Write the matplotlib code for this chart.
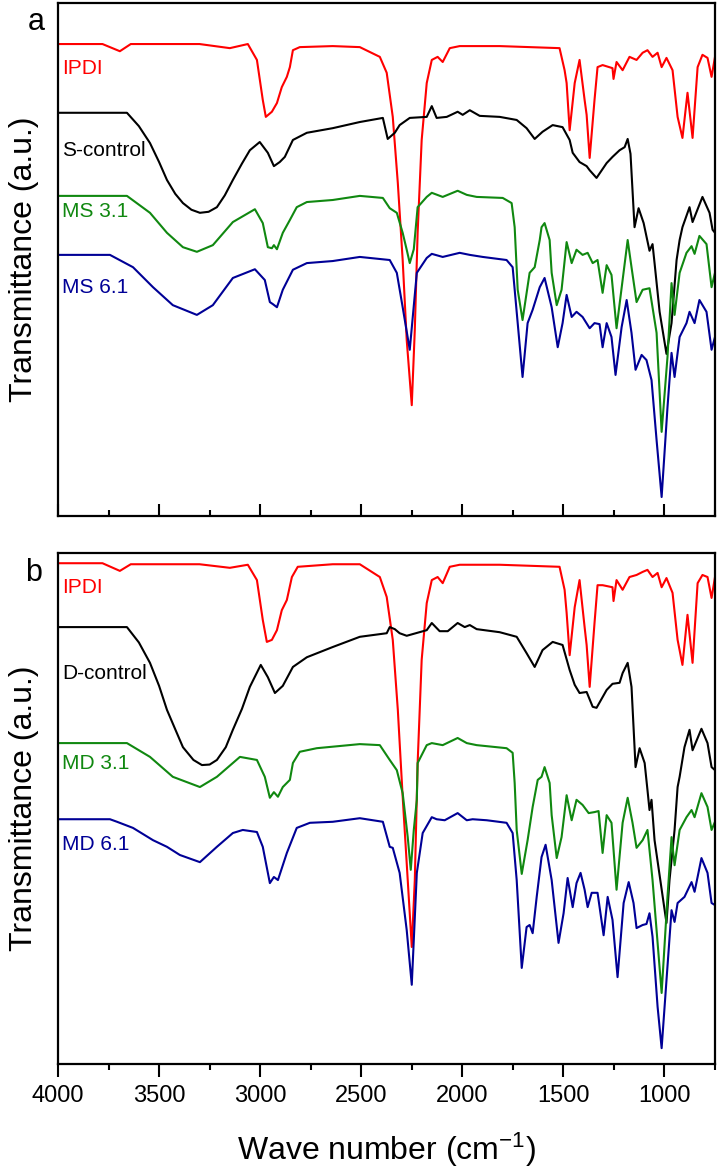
import numpy as np
import matplotlib
matplotlib.use("Agg")
import matplotlib.pyplot as plt
from matplotlib.ticker import MultipleLocator

plt.rcParams['font.family'] = ['Liberation Sans', 'DejaVu Sans']
plt.rcParams['mathtext.default'] = 'regular'

# ----------------------------------
# Spectra: (wave number, transmittance a.u., offset included)
# ----------------------------------
# panel a
ipdi_a = [(4000, 92.0), (3780, 92.0), (3694, 90.6), (3640, 92.0), (3300, 92.0), (3150, 91.2), (3061, 92.0),
          (3016, 88.9), (2987, 81.1), (2972, 77.8), (2942, 78.8), (2917, 80.5), (2893, 83.6), (2868, 85.6),
          (2853, 87.5), (2838, 90.8), (2804, 91.4), (2641, 91.6), (2507, 91.4), (2408, 89.5), (2374, 86.4),
          (2344, 77.8), (2319, 64.9), (2295, 49.9), (2275, 34.3), (2250, 21.6), (2235, 36.3), (2221, 55.2),
          (2201, 73.3), (2176, 84.4), (2151, 88.9), (2122, 89.5), (2097, 88.5), (2062, 91.2), (2013, 91.6),
          (1815, 91.6), (1519, 91.2), (1494, 86.9), (1484, 84.4), (1469, 75.2), (1444, 84.4), (1420, 88.9),
          (1395, 81.1), (1385, 78.2), (1370, 69.8), (1346, 81.1), (1331, 87.5), (1306, 87.9), (1257, 87.3),
          (1252, 85.2), (1237, 88.5), (1207, 86.9), (1173, 89.5), (1138, 88.9), (1108, 90.3), (1084, 90.8),
          (1059, 89.5), (1034, 90.3), (1014, 87.5), (990, 89.3), (960, 86.9), (935, 77.8), (911, 73.7),
          (886, 82.5), (861, 73.7), (836, 87.5), (812, 89.9), (787, 89.3), (767, 85.6), (750, 89.5)]
s_control = [(4000, 78.6), (3659, 78.6), (3600, 76.0), (3545, 72.7), (3500, 69.0), (3461, 65.5), (3420, 62.8),
             (3382, 61.0), (3340, 59.7), (3298, 59.1), (3255, 59.3), (3214, 60.2), (3175, 62.5), (3135, 65.5),
             (3090, 68.7), (3051, 71.3), (3002, 72.9), (2962, 70.8), (2932, 68.2), (2903, 69.0), (2878, 70.0),
             (2838, 73.3), (2769, 74.7), (2641, 75.6), (2507, 76.8), (2393, 77.6), (2369, 73.5), (2334, 74.7),
             (2310, 76.2), (2260, 77.6), (2176, 77.8), (2151, 79.9), (2127, 77.6), (2077, 77.8), (2023, 78.8),
             (1998, 78.2), (1963, 79.1), (1914, 78.0), (1815, 77.8), (1731, 77.2), (1682, 75.6), (1642, 73.5),
             (1603, 74.9), (1553, 76.2), (1504, 75.8), (1469, 73.3), (1454, 70.8), (1420, 69.0), (1385, 68.2),
             (1370, 67.4), (1336, 65.9), (1286, 68.8), (1257, 70.0), (1222, 71.3), (1197, 71.9), (1182, 73.5),
             (1168, 70.6), (1148, 56.3), (1128, 60.0), (1103, 57.1), (1074, 51.7), (1059, 53.0), (1049, 49.3),
             (1024, 39.8), (990, 31.6), (965, 37.6), (940, 49.9), (925, 53.8), (911, 56.3), (876, 60.2),
             (861, 57.3), (812, 62.2), (777, 59.1), (762, 55.8), (750, 55.2)]
ms31 = [(4000, 62.4), (3659, 62.4), (3545, 59.1), (3461, 55.2), (3382, 52.4), (3313, 51.5), (3234, 52.8),
        (3135, 57.3), (3026, 59.8), (2987, 57.1), (2962, 52.4), (2942, 52.2), (2932, 52.8), (2917, 52.0),
        (2888, 55.2), (2853, 57.7), (2819, 60.2), (2769, 61.2), (2641, 61.6), (2507, 62.4), (2393, 62.0),
        (2359, 60.0), (2324, 59.1), (2295, 55.2), (2275, 51.9), (2260, 49.3), (2240, 52.0), (2221, 60.2),
        (2176, 62.2), (2151, 63.0), (2097, 62.2), (2023, 63.4), (1978, 62.6), (1929, 62.2), (1800, 62.0),
        (1756, 61.0), (1741, 56.3), (1726, 44.1), (1702, 38.2), (1667, 47.4), (1642, 48.5), (1617, 53.8),
        (1608, 56.3), (1593, 57.1), (1568, 53.8), (1558, 47.4), (1533, 41.1), (1509, 44.1), (1484, 53.4),
        (1459, 49.3), (1435, 51.9), (1405, 50.9), (1380, 51.3), (1355, 49.3), (1331, 49.9), (1306, 43.5),
        (1286, 48.9), (1262, 47.0), (1237, 36.6), (1207, 46.0), (1182, 53.8), (1163, 48.5), (1138, 41.7),
        (1108, 44.1), (1074, 44.4), (1039, 35.7), (1014, 16.4), (985, 31.0), (965, 45.4), (950, 39.2),
        (925, 47.4), (891, 51.3), (866, 52.6), (851, 51.1), (827, 54.6), (792, 53.0), (767, 44.6), (750, 47.4)]
ms61 = [(4000, 50.9), (3743, 50.9), (3629, 48.5), (3530, 44.6), (3432, 41.1), (3313, 39.2), (3234, 41.1),
        (3135, 46.4), (3026, 48.1), (2977, 46.0), (2952, 41.7), (2937, 41.3), (2917, 40.7), (2888, 44.1),
        (2838, 48.0), (2769, 49.3), (2641, 49.7), (2507, 50.5), (2359, 49.9), (2324, 47.4), (2295, 40.7),
        (2260, 32.4), (2225, 47.4), (2176, 50.3), (2151, 51.1), (2097, 50.5), (2013, 51.3), (1963, 50.9),
        (1899, 50.5), (1781, 49.9), (1751, 48.5), (1726, 37.6), (1702, 27.1), (1677, 37.6), (1652, 40.2),
        (1617, 44.6), (1593, 46.4), (1558, 40.7), (1528, 32.9), (1504, 37.6), (1484, 43.1), (1459, 38.8),
        (1435, 39.8), (1405, 38.8), (1370, 36.6), (1346, 37.6), (1321, 37.4), (1306, 32.9), (1286, 37.6),
        (1262, 34.9), (1242, 27.5), (1212, 36.8), (1187, 42.1), (1163, 35.7), (1143, 28.5), (1113, 31.4),
        (1089, 30.4), (1064, 26.5), (1039, 14.8), (1014, 3.7), (985, 21.2), (965, 31.8), (950, 27.1),
        (925, 34.9), (891, 37.6), (876, 39.8), (851, 37.6), (827, 42.1), (792, 39.8), (767, 32.4), (750, 34.9)]

# panel b
ipdi_b = [(4000, 98.0), (3780, 98.0), (3694, 96.5), (3640, 97.8), (3300, 97.8), (3150, 97.1), (3061, 97.7),
          (3016, 94.7), (2987, 86.9), (2967, 82.6), (2942, 83.0), (2917, 84.9), (2893, 88.8), (2868, 90.8),
          (2843, 95.3), (2814, 97.3), (2641, 97.8), (2507, 97.8), (2408, 95.3), (2374, 91.4), (2344, 83.0),
          (2319, 69.3), (2295, 52.3), (2270, 36.0), (2250, 22.9), (2235, 36.0), (2221, 58.9), (2201, 79.1),
          (2176, 90.2), (2151, 94.7), (2122, 95.3), (2097, 94.1), (2062, 97.3), (2013, 97.7), (1815, 97.7),
          (1519, 97.3), (1494, 92.8), (1484, 88.3), (1469, 80.0), (1444, 89.4), (1420, 94.7), (1395, 85.5),
          (1385, 82.0), (1370, 73.8), (1346, 86.3), (1331, 93.7), (1306, 93.7), (1257, 93.3), (1252, 90.6),
          (1237, 94.7), (1207, 92.8), (1173, 95.3), (1138, 95.7), (1108, 96.3), (1084, 96.7), (1059, 95.3),
          (1034, 96.1), (1014, 93.3), (990, 95.1), (960, 92.2), (935, 83.0), (911, 78.1), (886, 87.9),
          (861, 78.5), (836, 94.1), (812, 95.7), (787, 95.3), (767, 91.2), (750, 95.3)]
d_control = [(4000, 85.5), (3659, 85.5), (3600, 82.5), (3545, 78.5), (3500, 74.0), (3461, 69.3), (3420, 65.5),
             (3382, 62.0), (3330, 59.5), (3288, 58.5), (3250, 58.6), (3214, 59.5), (3170, 62.0), (3135, 65.4),
             (3090, 69.5), (3051, 73.8), (2997, 78.1), (2962, 75.7), (2927, 72.6), (2888, 74.0), (2838, 77.7),
             (2769, 79.6), (2641, 81.6), (2507, 83.6), (2374, 84.3), (2359, 85.5), (2334, 85.1), (2310, 84.3),
             (2275, 83.8), (2176, 84.9), (2151, 86.3), (2112, 84.7), (2072, 84.7), (2023, 86.3), (1988, 85.5),
             (1963, 85.9), (1929, 85.1), (1815, 84.5), (1731, 83.6), (1682, 80.4), (1642, 77.7), (1603, 81.0),
             (1553, 82.6), (1504, 82.0), (1469, 77.1), (1444, 74.2), (1420, 72.6), (1385, 72.8), (1355, 69.9),
             (1336, 69.7), (1286, 73.2), (1257, 74.4), (1222, 74.6), (1207, 76.5), (1182, 78.5), (1163, 73.8),
             (1143, 58.1), (1123, 61.8), (1098, 58.9), (1084, 53.6), (1074, 49.7), (1064, 51.7), (1049, 43.8),
             (990, 27.6), (975, 36.0), (950, 45.8), (935, 54.2), (925, 56.2), (901, 62.0), (876, 65.4),
             (861, 61.4), (817, 65.6), (787, 62.8), (767, 58.1), (750, 57.5)]
md31 = [(4000, 62.8), (3659, 62.8), (3545, 60.1), (3432, 56.2), (3298, 54.2), (3214, 56.2), (3100, 60.1),
        (3016, 59.5), (2977, 56.2), (2952, 52.1), (2932, 53.2), (2912, 52.3), (2888, 54.2), (2853, 55.6),
        (2838, 58.9), (2804, 61.1), (2720, 61.8), (2507, 62.6), (2408, 62.4), (2359, 59.5), (2324, 57.5),
        (2295, 53.0), (2270, 44.4), (2255, 38.0), (2240, 45.8), (2225, 51.7), (2221, 58.9), (2176, 62.4),
        (2151, 62.8), (2097, 62.4), (2023, 63.8), (1978, 62.8), (1929, 62.4), (1781, 61.8), (1751, 60.9),
        (1741, 55.0), (1731, 45.8), (1706, 37.2), (1677, 43.8), (1652, 50.3), (1627, 55.6), (1608, 56.2),
        (1593, 58.1), (1568, 55.0), (1558, 48.7), (1533, 40.3), (1509, 44.4), (1484, 52.6), (1459, 47.7),
        (1435, 51.7), (1405, 50.7), (1375, 49.1), (1346, 49.3), (1326, 49.5), (1306, 41.3), (1286, 48.7),
        (1262, 47.2), (1237, 34.1), (1207, 47.2), (1182, 52.1), (1158, 47.2), (1138, 42.3), (1108, 43.8),
        (1084, 45.8), (1059, 36.0), (1014, 13.9), (985, 32.7), (965, 44.4), (950, 38.9), (925, 45.8),
        (891, 48.3), (866, 49.7), (851, 48.3), (817, 53.0), (787, 50.3), (767, 45.8), (750, 47.4)]
md61 = [(4000, 47.9), (3743, 47.9), (3708, 47.4), (3629, 46.2), (3530, 43.8), (3461, 42.5), (3397, 40.9),
        (3298, 39.5), (3214, 42.5), (3135, 45.2), (3086, 45.8), (3016, 45.4), (2987, 42.5), (2952, 35.4),
        (2932, 36.6), (2912, 36.0), (2868, 41.3), (2819, 46.2), (2754, 47.2), (2641, 47.4), (2507, 48.1),
        (2393, 47.4), (2359, 42.5), (2344, 42.3), (2310, 37.4), (2275, 26.2), (2250, 15.5), (2225, 37.4),
        (2196, 45.2), (2151, 48.3), (2127, 47.9), (2087, 47.7), (2023, 49.1), (1978, 47.7), (1949, 47.9),
        (1879, 47.7), (1781, 47.2), (1751, 45.2), (1731, 36.0), (1706, 18.8), (1682, 26.8), (1667, 27.2),
        (1652, 25.6), (1632, 32.7), (1608, 40.5), (1588, 42.9), (1558, 36.0), (1524, 23.7), (1499, 29.5),
        (1479, 36.4), (1454, 30.7), (1435, 35.4), (1415, 37.4), (1395, 34.1), (1380, 30.7), (1360, 33.5),
        (1331, 33.5), (1301, 25.2), (1281, 32.7), (1257, 28.2), (1232, 17.0), (1202, 31.5), (1177, 35.6),
        (1153, 31.5), (1138, 26.6), (1108, 27.2), (1089, 27.4), (1074, 29.5), (1059, 24.9), (1034, 11.2),
        (1014, 3.1), (990, 16.4), (965, 30.1), (950, 27.8), (935, 31.5), (901, 32.7), (866, 35.6),
        (851, 33.7), (817, 40.3), (787, 37.4), (767, 31.5), (750, 31.1)]

names_a = ["IPDI", "S-control", "MS 3.1", "MS 6.1"]
names_b = ["IPDI", "D-control", "MD 3.1", "MD 6.1"]
label_y_a = [87.3, 71.3, 59.3, 44.6]
label_y_b = [93.3, 76.5, 58.9, 42.9]
colors = ["#ff0000", "#000000", "#108810", "#000096"]

fig = plt.figure(figsize=(7.23, 11.73), dpi=100)
ax_a = fig.add_axes([58 / 723, 1 - 516 / 1173, 657 / 723, 513 / 1173])
ax_b = fig.add_axes([58 / 723, 1 - 1064 / 1173, 657 / 723, 511 / 1173])

panels = [
    (ax_a, [ipdi_a, s_control, ms31, ms61], names_a, label_y_a, "in"),
    (ax_b, [ipdi_b, d_control, md31, md61], names_b, label_y_b, "out"),
]

for ax, spectra, names, ly, tdir in panels:
    for spec, name, c, y in zip(spectra, names, colors, ly):
        wn, t = np.array(spec).T
        ax.plot(wn, t, color=c, lw=1.5)
        ax.text(3978, y, name, color=c, fontsize=15, ha="left", va="center")
    ax.set_xlim(4000, 750)
    ax.set_ylim(0, 100)
    ax.set_yticks([])
    ax.xaxis.set_major_locator(MultipleLocator(500))
    ax.xaxis.set_minor_locator(MultipleLocator(250))
    ax.tick_params(axis="x", which="major", direction=tdir, length=9, width=1.5, labelsize=17, pad=6)
    ax.tick_params(axis="x", which="minor", direction=tdir, length=4.5, width=1.5)
    for s in ax.spines.values():
        s.set_linewidth(1.6)

ax_a.tick_params(axis="x", labelbottom=False)

fig.text(36 / 723, 1 - 22 / 1173, "a", fontsize=22, ha="center", va="center")
fig.text(34 / 723, 1 - 573 / 1173, "b", fontsize=22, ha="center", va="center")
fig.text(24 / 723, 1 - 259 / 1173, "Transmittance (a.u.)", fontsize=23, rotation=90, ha="center", va="center")
fig.text(24 / 723, 1 - 808 / 1173, "Transmittance (a.u.)", fontsize=23, rotation=90, ha="center", va="center")
fig.text(386 / 723, 1 - 1150 / 1173, "Wave number (cm$^{-1}$)", fontsize=23, ha="center", va="center")

fig.savefig("out.png", dpi=100)
